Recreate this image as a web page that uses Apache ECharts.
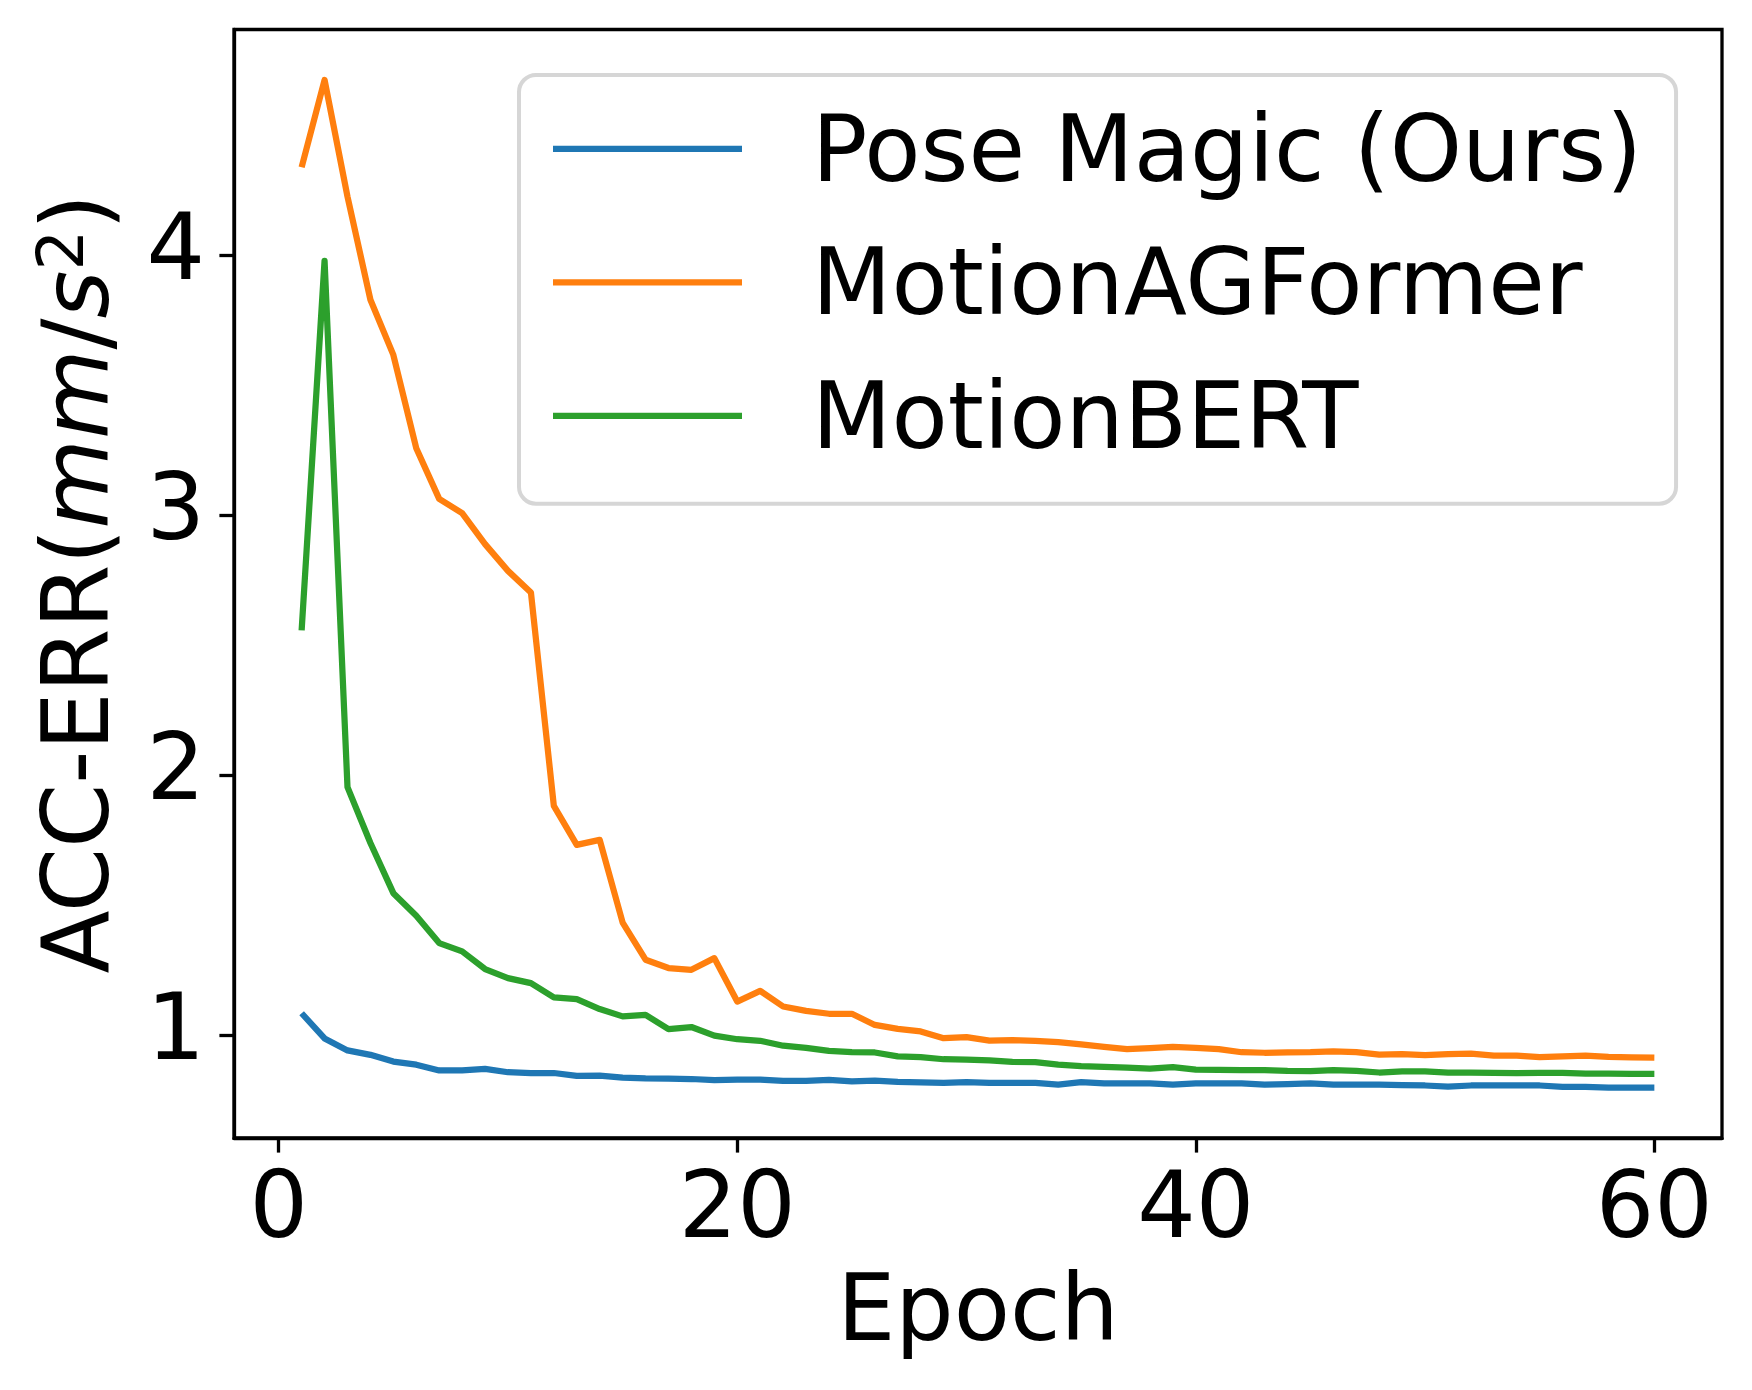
<!DOCTYPE html>
<html>
<head>
<meta charset="utf-8">
<script src="https://cdn.jsdelivr.net/npm/echarts@6/dist/echarts.min.js"></script>
<style>
  html, body { margin: 0; padding: 0; background: #fff; }
  #chart { width: 1752px; height: 1390px; }
</style>
</head>
<body>
<div id="chart"></div>
<script>
const epochs = [1,2,3,4,5,6,7,8,9,10,11,12,13,14,15,16,17,18,19,20,21,22,23,24,25,26,27,28,29,30,31,32,33,34,35,36,37,38,39,40,41,42,43,44,45,46,47,48,49,50,51,52,53,54,55,56,57,58,59,60];

const poseMagic = [1.083,0.986,0.940,0.923,0.897,0.885,0.863,0.863,0.869,0.856,
  0.853,0.853,0.842,0.843,0.835,0.832,0.831,0.830,0.826,0.828,
  0.828,0.823,0.823,0.827,0.821,0.824,0.819,0.817,0.815,0.818,
  0.815,0.815,0.815,0.808,0.818,0.813,0.813,0.813,0.808,0.813,
  0.813,0.813,0.808,0.810,0.813,0.808,0.808,0.808,0.806,0.805,
  0.801,0.805,0.805,0.805,0.805,0.800,0.800,0.797,0.797,0.797];

const motionAGFormer = [4.338,4.674,4.225,3.828,3.616,3.257,3.062,3.007,2.888,2.785,
  2.702,1.881,1.731,1.750,1.432,1.289,1.257,1.250,1.295,1.128,
  1.169,1.109,1.092,1.081,1.081,1.038,1.023,1.013,0.987,0.991,
  0.978,0.980,0.977,0.972,0.963,0.954,0.945,0.949,0.954,0.950,
  0.945,0.933,0.931,0.932,0.933,0.936,0.933,0.924,0.926,0.922,
  0.926,0.928,0.920,0.920,0.914,0.917,0.920,0.915,0.913,0.912];

const motionBERT = [2.556,3.978,1.953,1.738,1.545,1.458,1.353,1.321,1.253,1.218,
  1.199,1.144,1.137,1.099,1.071,1.077,1.022,1.030,0.997,0.983,
  0.977,0.958,0.950,0.938,0.933,0.932,0.917,0.914,0.906,0.905,
  0.902,0.896,0.895,0.885,0.880,0.877,0.874,0.870,0.876,0.866,
  0.865,0.864,0.864,0.861,0.860,0.864,0.861,0.855,0.859,0.859,
  0.855,0.855,0.854,0.853,0.854,0.854,0.851,0.851,0.850,0.850];

const seriesNames = ['Pose Magic (Ours)', 'MotionAGFormer', 'MotionBERT'];
const seriesColors = ['#1f77b4', '#ff7f0e', '#2ca02c'];
const xTicks = [0, 20, 40, 60];
const yTicks = [1, 2, 3, 4];
const xTitle = 'Epoch';

const FONT = 'DejaVu Sans';
const FS = 92;

function pairs(vals) { return epochs.map((e, i) => [e, vals[i]]); }

const chart = echarts.init(document.getElementById('chart'), null, { renderer: 'canvas' });

const lineSeries = [poseMagic, motionAGFormer, motionBERT].map((vals, i) => ({
  name: seriesNames[i],
  type: 'line',
  data: pairs(vals),
  symbol: 'none',
  showSymbol: false,
  animation: false,
  color: seriesColors[i],
  itemStyle: { color: seriesColors[i] },
  lineStyle: { color: seriesColors[i], width: 6.25, join: 'round', cap: 'butt' },
  emphasis: { disabled: true }
}));

const axisLine = { show: true, onZero: false, lineStyle: { color: '#000', width: 3.3 } };
const axisTick = { show: true, inside: false, length: 14.6, lineStyle: { color: '#000', width: 3.3 } };
const axisLabel = { color: '#000', fontFamily: FONT, fontSize: FS, margin: 29 };

// legend handle: a 189 x 6.25 bar at the top of a 189 x 22.25 icon box
const legendIcon = 'path://M0,0L189,0L189,6.25L0,6.25Z M0,22.24L0.01,22.24L0.01,22.25Z';

chart.setOption({
  animation: false,
  backgroundColor: '#fff',
  textStyle: { fontFamily: FONT },
  grid: {
    left: 234, right: 30, top: 29.5, bottom: 252,
    show: true, borderColor: '#000', borderWidth: 3.3, backgroundColor: '#fff'
  },
  xAxis: {
    type: 'value',
    min: -1.95, max: 62.95,
    name: xTitle,
    nameLocation: 'middle',
    nameGap: 128,
    nameTextStyle: { color: '#000', fontFamily: FONT, fontSize: FS, lineHeight: 100 },
    axisLine: axisLine,
    axisTick: Object.assign({}, axisTick, { customValues: xTicks }),
    splitLine: { show: false },
    axisLabel: Object.assign({}, axisLabel, { customValues: xTicks })
  },
  yAxis: {
    type: 'value',
    min: 0.603, max: 4.868,
    name: '{a|ACC-ERR(}{i|mm}{a|/}{i|s}{sup|2}{a|)}',
    nameLocation: 'middle',
    nameRotate: 90,
    nameGap: 100,
    nameTextStyle: {
      color: '#000', fontFamily: FONT, fontSize: FS,
      rich: {
        a: { fontFamily: FONT, fontSize: FS, color: '#000', lineHeight: 100 },
        i: { fontFamily: FONT, fontSize: FS, fontStyle: 'italic', color: '#000', lineHeight: 100 },
        sup: { fontFamily: FONT, fontSize: 64, color: '#000', lineHeight: 42, verticalAlign: 'top' }
      }
    },
    axisLine: axisLine,
    axisTick: Object.assign({}, axisTick, { customValues: yTicks }),
    splitLine: { show: false },
    axisLabel: Object.assign({}, axisLabel, { customValues: yTicks })
  },
  legend: {
    data: seriesNames,
    orient: 'vertical',
    left: 519, top: 75,
    icon: legendIcon,
    itemWidth: 189, itemHeight: 22.25, itemGap: 33.5,
    padding: [31.8, 34, 29.9, 34],
    backgroundColor: '#fff',
    borderColor: '#d6d6d6', borderWidth: 4, borderRadius: 17,
    textStyle: { color: '#000', fontFamily: FONT, fontSize: FS, lineHeight: 100, padding: [0, 0, 0, 65] },
    selectedMode: false
  },
  series: lineSeries
});
</script>
</body>
</html>
